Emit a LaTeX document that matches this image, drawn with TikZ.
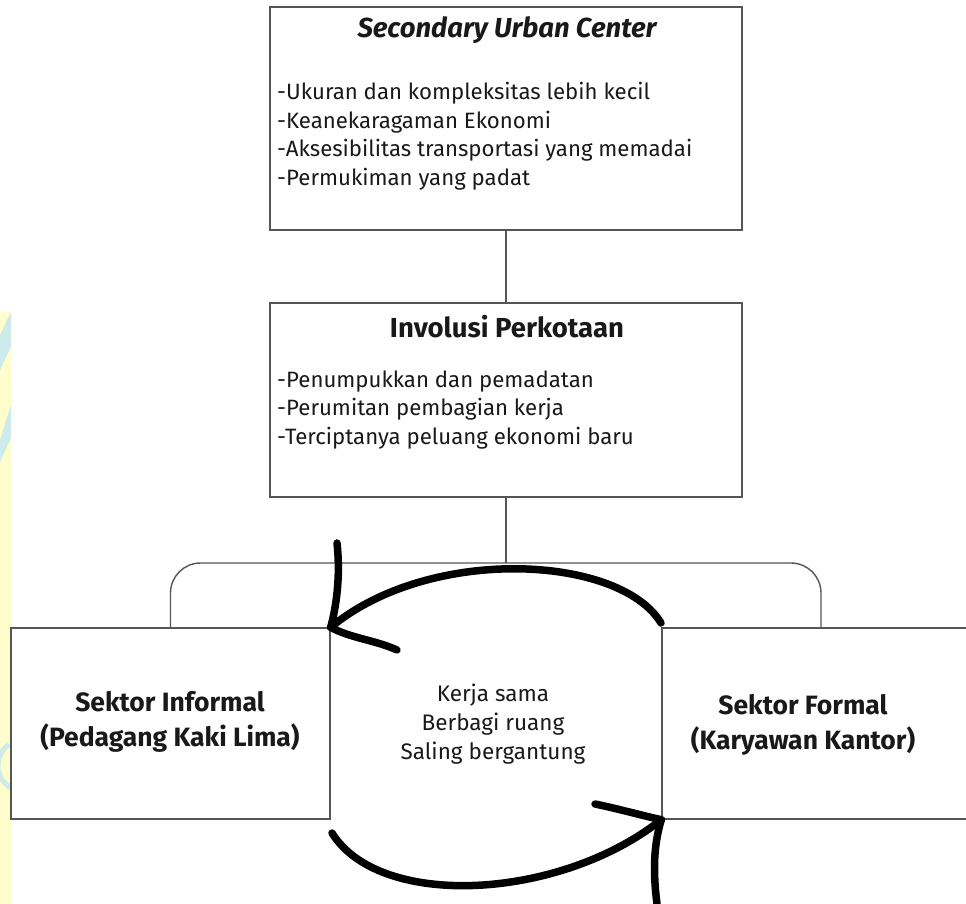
\documentclass[tikz,border=0pt]{standalone}
\usepackage{fontspec}
\setmainfont{Fira Sans}
\definecolor{boxline}{HTML}{555555}
\definecolor{wmyellow}{HTML}{FFFDCC}
\definecolor{wmcyan}{HTML}{CDEBEB}
\begin{document}
\begin{tikzpicture}[x=1pt,y=-1pt,
  box/.style={draw=boxline, line width=1.4pt, rectangle, inner sep=0pt},
  bodytext/.style={font=\fontsize{22.2}{28.5}\selectfont, align=left, inner sep=0pt, text=black!90},
  titletext/.style={font=\fontsize{27.5}{30}\selectfont\bfseries, inner sep=0pt, text=black!90},
  sectortext/.style={font=\fontsize{26.5}{35}\selectfont\bfseries, align=center, inner sep=0pt, text=black!90},
  midtext/.style={font=\fontsize{22.5}{29}\selectfont, align=center, inner sep=0pt, text=black!90},
  conn/.style={draw=boxline, line width=1.4pt},
  bigarrow/.style={draw=black, line width=7.5pt, line cap=round, line join=round}
]
\clip (0,0) rectangle (966,904);
\fill[white] (0,0) rectangle (966,904);
% watermark strip
\fill[wmyellow] (0,312) rectangle (11,904);
\fill[wmcyan] (0,335) -- (11,312) -- (11,347) -- (0,370) -- cycle;
\fill[wmcyan] (0,440) -- (11,405) -- (11,438) -- (0,462) -- cycle;
\draw[wmcyan, line width=5pt] (11,788) arc[start angle=120, end angle=235, radius=26];

% boxes
\node[box, minimum width=472pt, minimum height=223pt] (top) at (506,118.5) {};
\node[box, minimum width=472pt, minimum height=194pt] (mid) at (506,400) {};
\node[box, minimum width=319pt, minimum height=191pt] (lb) at (170.5,723.5) {};
\node[box, minimum width=318pt, minimum height=191pt] (rb) at (821,723.5) {};

% texts
\node[titletext, font=\fontsize{27.5}{30}\selectfont\bfseries\itshape] (toptitle) at (507,30) {Secondary Urban Center};
\node[bodytext, anchor=west] (topbody) at (277,136) {-Ukuran dan kompleksitas lebih kecil\\-Keanekaragaman Ekonomi\\-Aksesibilitas transportasi yang memadai\\-Permukiman yang padat};
\node[titletext] (midtitle) at (507,327) {Involusi Perkotaan};
\node[bodytext, anchor=west] (midbody) at (277,410) {-Penumpukkan dan pemadatan\\-Perumitan pembagian kerja\\-Terciptanya peluang ekonomi baru};
\node[sectortext] (lbtext) at (170,722) {Sektor Informal\\(Pedagang Kaki Lima)};
\node[sectortext] (rbtext) at (803,725) {Sektor Formal\\(Karyawan Kantor)};
\node[midtext] (center) at (493,724) {Kerja sama\\Berbagi ruang\\Saling bergantung};

% connectors
\coordinate (br) at (506,563);
\draw[conn] (top.south) -- (mid.north);
\draw[conn] (mid.south) -- (br);
\draw[conn, rounded corners=30pt] (lb.north) |- (br) -| (rb.north);

% big arrows
\coordinate (t1) at (661,623);
\coordinate (b1) at (332,833);
\coordinate (ha) at (337,543);
\coordinate (hb) at (397,650);
\coordinate (hc) at (595,804);
\coordinate (hd) at (657,904);
\draw[bigarrow] (t1) .. controls (620,555) and (430,545) .. (lb.north east);
\draw[bigarrow] (lb.north east) .. controls (338,600) and (340,570) .. (ha);
\draw[bigarrow] (lb.north east) .. controls (350,638) and (375,640) .. (hb);
\draw[bigarrow] (b1) .. controls (380,910) and (560,900) .. (rb.south west);
\draw[bigarrow] (rb.south west) .. controls (640,815) and (615,808) .. (hc);
\draw[bigarrow] (rb.south west) .. controls (652,850) and (654,880) .. (hd);
\end{tikzpicture}
\end{document}
